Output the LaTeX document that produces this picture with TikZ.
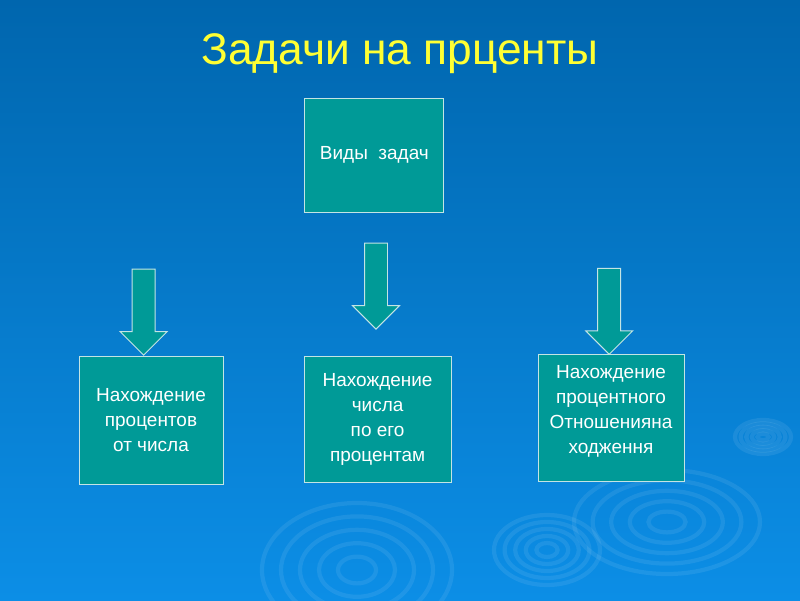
\documentclass[tikz,border=0pt]{standalone}
\usepackage{fontspec}
\setmainfont{Liberation Sans}
\usepackage{tikz}
\usetikzlibrary{positioning,shapes.arrows}
\definecolor{bgtop}{HTML}{0066AE}
\definecolor{bgbottom}{HTML}{0C8EE6}
\definecolor{boxteal}{HTML}{009A97}
\definecolor{boxrim}{HTML}{C4E4E4}
\definecolor{titleyellow}{HTML}{FFFF33}
\tikzset{
  % rutor
  task/.style={rectangle,draw=boxrim,fill=boxteal,line width=0.7pt,text=white,
               font=\fontsize{13.5}{17.8}\selectfont,align=center,inner sep=0pt},
  % pilar
  downarrow/.style={shape=single arrow,rotate=-90,draw=boxrim,fill=boxteal,
                    line width=0.7pt,inner xsep=0pt,inner ysep=0.275cm,
                    minimum height=2.15cm,single arrow head extend=0.3cm,
                    single arrow tip angle=90},
  % ringar
  ripple/.style={draw=white,opacity=0.08,line width=3pt},
}
\begin{document}
\begin{tikzpicture}
\useasboundingbox (0,0) rectangle (20,15);
  \shade[top color=bgtop,bottom color=bgbottom] (0,0) rectangle (20,15);
  \foreach \f in {0.2,0.4,0.6,0.8,1} {
    \draw[ripple] (19.075,4.075) ellipse ({0.7*\f} and {0.425*\f});
    \draw[ripple] (16.675,1.95) ellipse ({2.325*\f} and {1.3*\f});
    \draw[ripple] (13.675,1.25) ellipse ({1.325*\f} and {0.875*\f});
    \draw[ripple] (8.925,0.75) ellipse ({2.375*\f} and {1.675*\f});
  }
  \node[anchor=base,text=titleyellow,font=\fontsize{31.5}{36}\selectfont]
    (title) at (10,13.38) {Задачи на прценты};
  \node[task,minimum width=3.475cm,minimum height=2.85cm]
    (kinds) at (9.36,11.125) {Виды\ \ задач};
  \node[downarrow] (arrowL) at (3.59,7.34) {};
  \node[downarrow] (arrowM) at (9.4,7.99) {};
  \node[downarrow] (arrowR) at (15.23,7.36) {};
  \node[task,minimum width=3.6cm,minimum height=3.2cm]
    (percent) at (3.775,4.5) {Нахождение\\процентов\\ от числа};
  \node[task,minimum width=3.675cm,minimum height=3.15cm]
    (number) at (9.44,4.525) {Нахождение\\числа\\по его\\ процентам};
  \node[task,minimum width=3.65cm,minimum height=3.175cm]
    (ratio) at (15.275,4.54) {Нахождение\\процентного\\Отношенияна\\ходження\\[-0.2cm]};
\end{tikzpicture}
\end{document}
